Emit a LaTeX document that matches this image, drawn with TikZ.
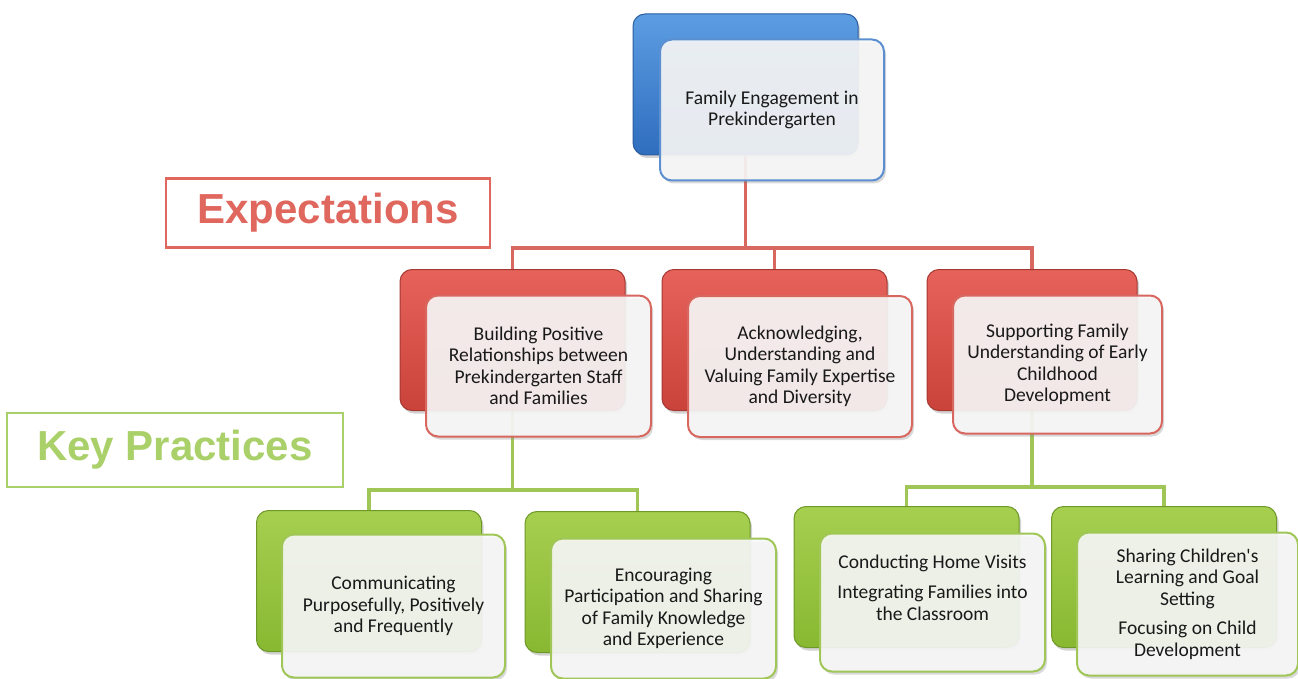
\documentclass[tikz,border=0pt]{standalone}
\usepackage{fontspec}
\setmainfont{Carlito}
\newfontfamily\headfont{Liberation Sans}
\usetikzlibrary{shadows,backgrounds}

\definecolor{bluetop}{HTML}{5C9DE2}
\definecolor{bluebot}{HTML}{2F6DBE}
\definecolor{blueedge}{HTML}{2A5E9E}
\definecolor{bluefront}{HTML}{5B8FD0}
\definecolor{redtop}{HTML}{E6625A}
\definecolor{redbot}{HTML}{CA433B}
\definecolor{rededge}{HTML}{A63832}
\definecolor{redfront}{HTML}{D8675F}
\definecolor{greentop}{HTML}{A6CF50}
\definecolor{greenbot}{HTML}{88B832}
\definecolor{greenedge}{HTML}{6E9828}
\definecolor{greenfront}{HTML}{A0C658}
\definecolor{frontfill}{HTML}{F8F8F8}
\definecolor{exptext}{HTML}{E0675E}
\definecolor{keytext}{HTML}{AAD06A}

\tikzset{
  backbox/.style={rounded corners=12pt, minimum width=225pt, minimum height=141pt,
    line width=1pt, drop shadow={opacity=.35,shadow xshift=2pt,shadow yshift=-3pt}},
  blueback/.style={backbox, draw=blueedge, top color=bluetop, bottom color=bluebot},
  redback/.style={backbox, draw=rededge, top color=redtop, bottom color=redbot},
  greenback/.style={backbox, draw=greenedge, top color=greentop, bottom color=greenbot},
  frontbox/.style={rounded corners=12pt, minimum width=224pt, minimum height=141pt,
    line width=2pt, fill=frontfill, fill opacity=.9, text opacity=1, align=center,
    text=black!90, font=\fontsize{19.5}{21.5}\selectfont,
    drop shadow={opacity=.3,shadow xshift=2pt,shadow yshift=-3pt}},
  bluefrontbox/.style={frontbox, draw=bluefront},
  redfrontbox/.style={frontbox, draw=redfront},
  greenfrontbox/.style={frontbox, draw=greenfront},
  redlink/.style={draw=redfront, line width=3.5pt},
  greenlink/.style={draw=greenfront, line width=3.5pt},
  tagbox/.style={line width=2.5pt, fill=white, inner sep=0pt,
    font=\headfont\bfseries\fontsize{42}{48}\selectfont}
}

\begin{document}
\begin{tikzpicture}[x=1pt,y=-1pt]
\useasboundingbox (0,0) rectangle (1298,679);

\node[blueback] (topback) at (745.5,84.5) {};
\node[bluefrontbox] (top) at (772,110) {Family Engagement in\\Prekindergarten};

\node[tagbox, draw=exptext, text=exptext, minimum width=324pt, minimum height=69pt]
  (expect) at (328,213) {Expectations};
\node[tagbox, draw=keytext, text=keytext, minimum width=336pt, minimum height=74pt]
  (keyprac) at (175,450) {Key Practices};

\node[redback] (exp1back) at (512.5,340) {};
\node[redfrontbox, minimum width=225pt] (exp1) at (538.5,366)
  {Building Positive\\Relationships between\\Prekindergarten Staff\\and Families};
\node[redback] (exp2back) at (774.5,340) {};
\node[redfrontbox] (exp2) at (800,366.5)
  {Acknowledging,\\Understanding and\\Valuing Family Expertise\\and Diversity};
\node[redback, minimum width=210pt] (exp3back) at (1032,340) {};
\node[redfrontbox, minimum width=209pt, minimum height=138pt] (exp3) at (1057.5,364.5)
  {Supporting Family\\Understanding of Early\\Childhood\\Development};

\node[greenback] (prac1back) at (369,581) {};
\node[greenfrontbox, minimum width=223pt, minimum height=143pt] (prac1) at (393.5,606)
  {Communicating\\Purposefully, Positively\\and Frequently};
\node[greenback] (prac2back) at (637.5,582) {};
\node[greenfrontbox, minimum width=225pt, minimum height=140pt] (prac2) at (663.5,608.5)
  {Encouraging\\Participation and Sharing\\of Family Knowledge\\and Experience};
\node[greenback] (prac3back) at (906.5,577) {};
\node[greenfrontbox, minimum width=225pt, minimum height=138pt] (prac3) at (932.5,602.5)
  {Conducting Home Visits\\[9pt]Integrating Families into\\the Classroom\\[9pt]\mbox{}};
\node[greenback] (prac4back) at (1164,577) {};
\node[greenfrontbox, minimum width=221pt, minimum height=143pt] (prac4) at (1187.5,604)
  {Sharing Children\textquotesingle s\\Learning and Goal\\Setting\\[8pt]Focusing on Child\\Development};

\coordinate (redbus) at (745.5,248);
\coordinate (leftbus) at (512.5,490);
\coordinate (rightbus) at (1032,487);

\begin{scope}[on background layer]
  \draw[redlink] (topback.south) -- (redbus);
  \draw[redlink] (redbus) -| (exp1back.north);
  \draw[redlink] (redbus) -| (exp2back.north);
  \draw[redlink] (redbus) -| (exp3back.north);
  \draw[greenlink] (exp1back.south) -- (leftbus);
  \draw[greenlink] (leftbus) -| (prac1back.north);
  \draw[greenlink] (leftbus) -| (prac2back.north);
  \draw[greenlink] (exp3back.south) -- (rightbus);
  \draw[greenlink] (rightbus) -| (prac3back.north);
  \draw[greenlink] (rightbus) -| (prac4back.north);
\end{scope}

\end{tikzpicture}
\end{document}
